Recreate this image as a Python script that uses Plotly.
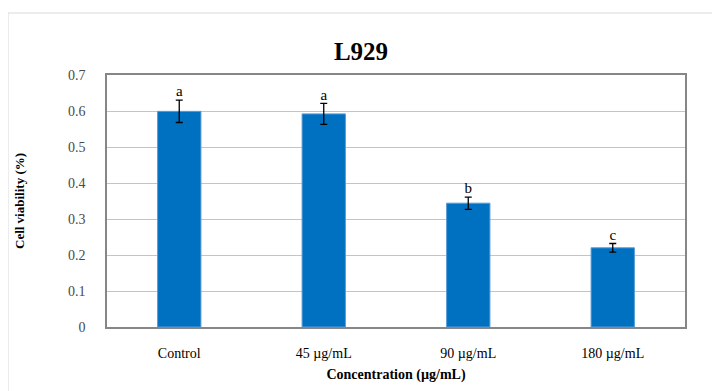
import plotly.graph_objects as go

categories = ["Control", "45 µg/mL", "90 µg/mL", "180 µg/mL"]
viability = [0.599, 0.592, 0.344, 0.220]
errors = [0.031, 0.029, 0.017, 0.012]
letters = ["a", "a", "b", "c"]
y_ticks = [0, 0.1, 0.2, 0.3, 0.4, 0.5, 0.6, 0.7]

font_family = "Liberation Serif, Times New Roman, serif"

# figure is placed at an 8px body offset in the page
W, H = 712, 383
L, R, T, B = 99, 35, 67, 64
PW, PH = W - L - R, H - T - B

fig = go.Figure()
fig.add_trace(go.Bar(
    x=categories, y=viability,
    marker=dict(color="#0070c0", line=dict(color="#5b9bd5", width=1)),
    error_y=dict(type="data", array=errors, visible=True, color="black",
                 thickness=1.3, width=3.5),
    width=0.3,
    showlegend=False,
))
fig.add_trace(go.Scatter(
    x=categories, y=[v + e for v, e in zip(viability, errors)],
    mode="text", text=letters, textposition="top center",
    textfont=dict(family=font_family, size=15, color="black"),
    showlegend=False, hoverinfo="skip",
))

# outer chart frame
fig.add_shape(type="rect", xref="paper", yref="paper",
              x0=(0 - L) / PW, x1=(W + 5 - L) / PW,
              y0=-(B + 5) / PH, y1=(H - B - 5) / PH,
              line=dict(color="#d9d9d9", width=1), layer="below")

fig.update_layout(
    width=W, height=H,
    margin=dict(l=L, r=R, t=T, b=B),
    paper_bgcolor="white", plot_bgcolor="white",
    font=dict(family=font_family, size=14, color="black"),
    title=dict(text="<b>L929</b>", x=353 / W, xanchor="center",
               y=1 - 43 / H, yanchor="middle",
               font=dict(family=font_family, size=25, color="black")),
    xaxis=dict(
        showline=True, linecolor="#868686", linewidth=1.5, mirror=True,
        ticks="", ticklabelstandoff=12,
        tickfont=dict(family=font_family, size=14, color="black"),
        title=dict(text="<b>Concentration (µg/mL)</b>", standoff=10,
                   font=dict(family=font_family, size=14)),
    ),
    yaxis=dict(
        range=[0, 0.7], tickvals=y_ticks,
        ticktext=[("%g" % v) for v in y_ticks],
        showgrid=True, gridcolor="#c4c4c4", gridwidth=1,
        showline=True, linecolor="#868686", linewidth=1.5, mirror=True,
        ticks="", ticklabelstandoff=17,
        tickfont=dict(family=font_family, size=14, color="#4a4a4a"),
        zeroline=False,
        title=dict(text="<b>Cell viability (%)</b>", standoff=40,
                   font=dict(family=font_family, size=13)),
    ),
)

fig.write_html("out.html")
